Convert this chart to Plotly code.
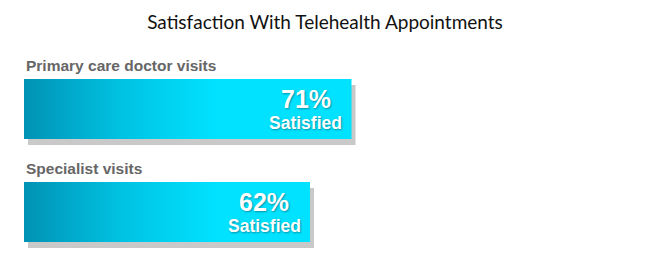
import plotly.graph_objects as go

categories = ["Primary care doctor visits", "Specialist visits"]
values = [71, 62]
value_labels = ["71%", "62%"]
sub_label = "Satisfied"
title = "Satisfaction With Telehealth Appointments"

W, H = 650, 266
px_per_unit = 4.613
left_px = 24
x_max = (W - left_px) / px_per_unit
row_px = 103
bar_w = 60 / row_px
first_center_px = 109
y_top = -first_center_px / row_px
y_bot = y_top + H / row_px

shadow_dx = 4 / px_per_unit
shadow_dy = 6 / row_px

fig = go.Figure()

ys = list(range(len(categories)))

# shadows
fig.add_trace(go.Bar(
    orientation="h", x=values, y=[y + shadow_dy for y in ys], base=shadow_dx,
    width=bar_w, marker=dict(color="rgba(195,195,195,0.9)", line=dict(width=0)),
    hoverinfo="skip", showlegend=False))

# gradient bars
for i, (c, v) in enumerate(zip(categories, values)):
    y0, y1 = i - bar_w / 2, i + bar_w / 2
    fig.add_trace(go.Scatter(
        x=[0, v, v, 0, 0], y=[y0, y0, y1, y1, y0], mode="lines",
        line=dict(width=0), fill="toself",
        fillgradient=dict(type="horizontal",
                          colorscale=[[0, "#0092B4"], [0.5, "#00C2E2"], [1, "#00E2FF"]],
                          start=0, stop=42),
        hoverinfo="skip", showlegend=False, name=c))

shadow_txt = "1px 1px 2px rgba(0,0,0,0.35)"
for i, (c, v, lab) in enumerate(zip(categories, values, value_labels)):
    fig.add_annotation(x=0, y=i - bar_w / 2, text=c, xanchor="left", yanchor="bottom",
                       yshift=3, showarrow=False,
                       font=dict(family="Liberation Sans", size=15.5, color="#666666",
                                 weight="bold"))
    fig.add_annotation(x=v, y=i, text=lab, xanchor="center", yanchor="middle",
                       xshift=-46, yshift=10, showarrow=False,
                       font=dict(family="Liberation Sans", size=25, color="white",
                                 weight="bold", shadow=shadow_txt))
    fig.add_annotation(x=v, y=i, text=sub_label, xanchor="center", yanchor="middle",
                       xshift=-46, yshift=-14, showarrow=False,
                       font=dict(family="Liberation Sans", size=17.5, color="white",
                                 weight="bold", shadow=shadow_txt))

fig.update_layout(
    width=W, height=H,
    margin=dict(l=left_px, r=0, t=0, b=0),
    paper_bgcolor="white", plot_bgcolor="white",
    title=dict(text=title, x=0.5, xref="paper", y=1 - 22 / H, yref="container",
               xanchor="center", yanchor="middle",
               font=dict(family="Lato", size=19, color="#111111")),
    xaxis=dict(range=[0, x_max], visible=False, fixedrange=True),
    yaxis=dict(range=[y_bot, y_top], visible=False, fixedrange=True),
    barmode="overlay",
)
fig.update_layout(title_x=(325 - left_px) / (W - left_px))

fig.write_html("out.html")
